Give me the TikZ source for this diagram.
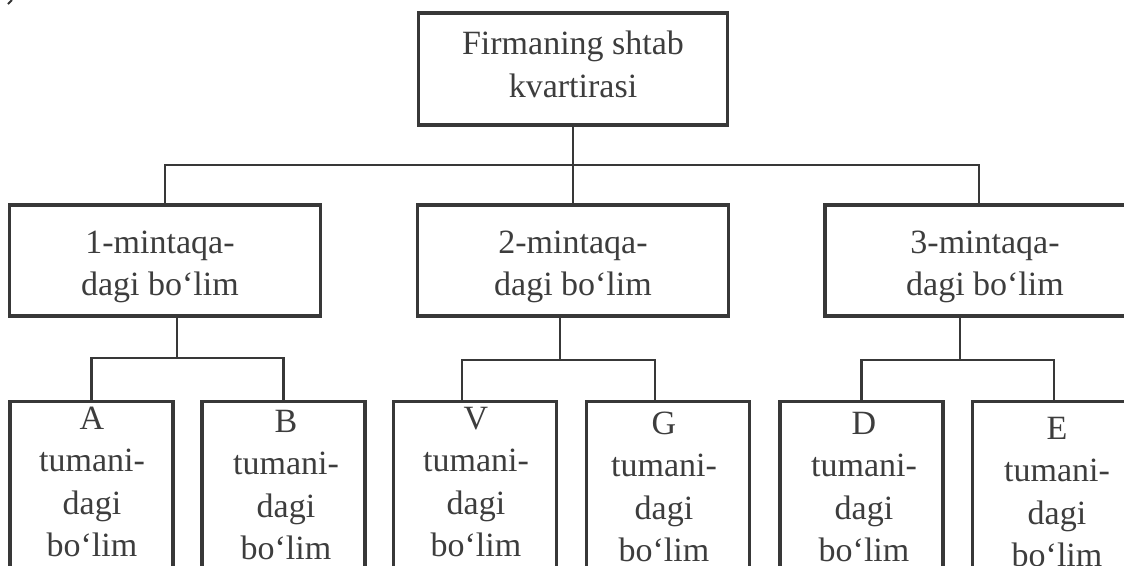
\documentclass[tikz,border=0pt]{standalone}
\usepackage{fontspec}
\setmainfont{Liberation Serif}
\begin{document}
\begin{tikzpicture}[x=1pt, y=-1pt,
  ink/.style={draw=black!78, line width=3.1pt},
  boxnode/.style={ink, rectangle, inner sep=0pt, fill=none},
  leafbox/.style={boxnode, anchor=north, minimum width=163pt, minimum height=200pt},
  label/.style={inner sep=0pt, align=center, text=black!76,
    font={\fontsize{34}{42.5}\selectfont}},
  wire/.style={draw=black!78, line width=2.9pt}]
\useasboundingbox (0,0) rectangle (1124,565);
\clip (0,0) rectangle (1124,565);

% small stroke left over in the upper left corner
\draw[draw=black!80, line width=1.8pt] (8,4) -- (12,0);

% headquarters
\node[boxnode, minimum width=309pt, minimum height=112pt] (hq) at (573,69) {};
\node[label] (hq-t) at (573,64.5) {Firmaning shtab\\kvartirasi};

% regional branches
\node[boxnode, minimum width=311pt, minimum height=111pt] (r1) at (165,260.5) {};
\node[boxnode, minimum width=311pt, minimum height=111pt] (r2) at (573,260.5) {};
\node[boxnode, minimum width=308pt, minimum height=111pt] (r3) at (979,260.5) {};
\node[label] (r1-t) at (160,267) {1-mintaqa-\\dagi bo‘lim};
\node[label] (r2-t) at (573,267) {2-mintaqa-\\dagi bo‘lim};
\node[label] (r3-t) at (985,267) {3-mintaqa-\\dagi bo‘lim};

% district branches
\node[leafbox] (A) at (91.5,400) {};
\node[leafbox] (B) at (283.5,400) {};
\node[leafbox] (V) at (475,400) {};
\node[leafbox] (G) at (668,400) {};
\node[leafbox] (D) at (861.5,400) {};
\node[leafbox] (E) at (1054,400) {};
\node[label] (A-t) at (92,482) {A\\tumani-\\dagi\\bo‘lim};
\node[label] (B-t) at (286,485) {B\\tumani-\\dagi\\bo‘lim};
\node[label] (V-t) at (476,482) {V\\tumani-\\dagi\\bo‘lim};
\node[label] (G-t) at (664,487) {G\\tumani-\\dagi\\bo‘lim};
\node[label] (D-t) at (864,487) {D\\tumani-\\dagi\\bo‘lim};
\node[label] (E-t) at (1057,492) {E\\tumani-\\dagi\\bo‘lim};

% junctions of the connector bars
\coordinate (j0) at (573,165);
\coordinate (j1) at (177,358);
\coordinate (j2) at (560,360);
\coordinate (j3) at (960,360);

% connectors
\draw[wire] (hq.south) -- (j0);
\draw[wire] (r1.north) |- (j0) -| (r3.north);
\draw[wire] (j0) -- (r2.north);

\draw[wire] ([xshift=12pt]r1.south) -- (j1);
\draw[wire] (A.north) |- (j1) -| (B.north);

\draw[wire] ([xshift=-13pt]r2.south) -- (j2);
\draw[wire] ([xshift=-13pt]V.north) |- (j2) -| ([xshift=-13pt]G.north);

\draw[wire] ([xshift=-19pt]r3.south) -- (j3);
\draw[wire] (D.north) |- (j3) -| (E.north);
\end{tikzpicture}
\end{document}
